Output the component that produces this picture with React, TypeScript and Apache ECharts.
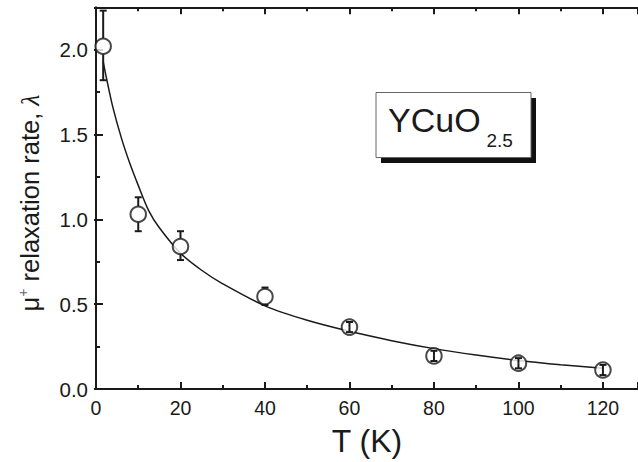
import React, { useEffect, useRef } from "react";
import * as echarts from "echarts";

// measured points
const T_PTS = [1.7, 10, 20, 40, 60, 80, 100, 120];
const LAMBDA = [2.02, 1.03, 0.84, 0.545, 0.365, 0.195, 0.152, 0.112];
const ERR_LOW = [1.82, 0.93, 0.76, 0.495, 0.335, 0.165, 0.122, 0.082];
const ERR_HIGH = [2.23, 1.13, 0.93, 0.598, 0.395, 0.225, 0.182, 0.142];

// fitted curve
const FIT_T = [1.7, 2.5, 4, 6, 8, 10, 12.5, 15, 20, 25, 30, 40, 50, 60, 70, 80, 90, 100, 110, 120];
const FIT_L = [1.93, 1.83, 1.66, 1.48, 1.33, 1.2, 1.05, 0.95, 0.8, 0.7, 0.62, 0.49, 0.405, 0.34, 0.285, 0.238, 0.2, 0.168, 0.143, 0.123];

const X_TICKS = [0, 20, 40, 60, 80, 100, 120];
const Y_TICKS = ["0.0", "0.5", "1.0", "1.5", "2.0"];

const FONT = "Liberation Sans, Arial, Helvetica, sans-serif";
const INK = "#1a1a1a";

export default function App() {
  const ref = useRef<HTMLDivElement>(null);
  useEffect(() => {
    if (!ref.current) return;
    const chart = echarts.init(ref.current, null, { renderer: "svg" });
    const R = 8;
    const axisCommon = {
      axisLine: { show: true, onZero: false, lineStyle: { color: INK, width: 2 } },
      splitLine: { show: false },
    };
    chart.setOption({
      animation: false,
      backgroundColor: "#fff",
      grid: { left: 96, top: 7.25, right: 0, bottom: 70, containLabel: false },
      xAxis: [
        {
          type: "value",
          min: 0,
          max: 128.3,
          interval: 20,
          ...axisCommon,
          axisTick: { show: true, inside: true, length: 7, lineStyle: { color: INK, width: 2 } },
          minorTick: { show: true, splitNumber: 2, length: 4, lineStyle: { color: INK, width: 2 } },
          axisLabel: {
            margin: 9,
            fontSize: 19.5,
            color: INK,
            fontFamily: FONT,
            showMaxLabel: false,
            formatter: (v: number) => (X_TICKS.includes(v) ? String(v) : ""),
          },
          name: "T (K)",
          nameLocation: "middle",
          nameGap: 36,
          nameTextStyle: { fontSize: 32, color: INK, fontFamily: FONT },
        },
        {
          type: "value",
          position: "top",
          min: 0,
          max: 128.3,
          interval: 20,
          ...axisCommon,
          axisTick: { show: true, inside: true, length: 7, lineStyle: { color: INK, width: 2 } },
          minorTick: { show: true, splitNumber: 2, length: 4, lineStyle: { color: INK, width: 2 } },
          axisLabel: { show: false },
        },
      ],
      yAxis: [
        {
          type: "value",
          min: 0,
          max: 2.25,
          interval: 0.5,
          ...axisCommon,
          axisTick: { show: true, inside: true, length: 7, lineStyle: { color: INK, width: 2 } },
          minorTick: { show: true, splitNumber: 2, length: 4, lineStyle: { color: INK, width: 2 } },
          axisLabel: {
            margin: 8,
            fontSize: 20.5,
            color: INK,
            fontFamily: FONT,
            formatter: (v: number) => Y_TICKS.find((t) => Math.abs(parseFloat(t) - v) < 1e-6) || "",
          },
        },
        {
          type: "value",
          position: "right",
          min: 0,
          max: 2.25,
          interval: 0.5,
          axisLine: { show: false },
          splitLine: { show: false },
          axisTick: { show: true, inside: true, length: 2, lineStyle: { color: INK, width: 2 } },
          axisLabel: { show: false },
        },
      ],
      series: [
        {
          type: "line",
          data: FIT_T.map((t, i) => [t, FIT_L[i]]),
          smooth: 0.3,
          showSymbol: false,
          symbol: "none",
          lineStyle: { color: INK, width: 1.5 },
          z: 2,
        },
        {
          type: "scatter",
          data: T_PTS.map((t, i) => [t, LAMBDA[i]]),
          symbol: "circle",
          symbolSize: 15.5,
          itemStyle: { color: "#fff", borderColor: INK, borderWidth: 2 },
          z: 3,
        },
        {
          type: "custom",
          data: T_PTS.map((t, i) => [t, ERR_LOW[i], ERR_HIGH[i], LAMBDA[i]]),
          encode: { x: 0, y: [1, 2, 3] },
          z: 4,
          renderItem: (params: any, api: any) => {
            const x = api.value(0);
            const pLo = api.coord([x, api.value(1)]);
            const pHi = api.coord([x, api.value(2)]);
            const pC = api.coord([x, api.value(3)]);
            const w = 3.5;
            const st = { stroke: INK, lineWidth: 2 };
            const children: any[] = [];
            const up = pC[1] - pHi[1];
            const dn = pLo[1] - pC[1];
            children.push({
              type: "line",
              shape: { x1: pC[0], y1: up > R ? pC[1] - R : pC[1], x2: pHi[0], y2: pHi[1] },
              style: st,
            });
            children.push({
              type: "line",
              shape: { x1: pC[0], y1: dn > R ? pC[1] + R : pC[1], x2: pLo[0], y2: pLo[1] },
              style: st,
            });
            children.push({ type: "line", shape: { x1: pHi[0] - w, y1: pHi[1], x2: pHi[0] + w, y2: pHi[1] }, style: st });
            children.push({ type: "line", shape: { x1: pLo[0] - w, y1: pLo[1], x2: pLo[0] + w, y2: pLo[1] }, style: st });
            return { type: "group", children };
          },
        },
      ],
      graphic: [
        {
          type: "text",
          x: 30,
          y: 203,
          rotation: Math.PI / 2,
          style: {
            text: "{a|\u03bc}{b|+}{a| relaxation rate, }{c|\u03bb}",
            textAlign: "center",
            textVerticalAlign: "middle",
            fill: INK,
            rich: {
              a: { fontSize: 25.5, fontFamily: FONT, fill: INK, lineHeight: 28 },
              b: { fontSize: 14, fontFamily: FONT, fill: "#666", verticalAlign: "top", lineHeight: 28 },
              c: { fontSize: 25.5, fontFamily: "Liberation Serif, serif", fontStyle: "italic", fill: INK, lineHeight: 28 },
            },
          },
          z: 12,
        },
        { type: "rect", shape: { x: 381, y: 98, width: 155, height: 65 }, style: { fill: "#111" }, z: 10 },
        {
          type: "rect",
          shape: { x: 376, y: 92.5, width: 155, height: 65 },
          style: { fill: "#fff", stroke: "#666", lineWidth: 1 },
          z: 11,
        },
        {
          type: "text",
          x: 388,
          y: 120,
          style: { text: "YCuO", font: `34px ${FONT}`, fill: INK, textAlign: "left", textVerticalAlign: "middle" },
          z: 12,
        },
        {
          type: "text",
          x: 486.5,
          y: 140.5,
          style: { text: "2.5", font: `19px ${FONT}`, fill: INK, textAlign: "left", textVerticalAlign: "middle" },
          z: 12,
        },
      ],
    });
    return () => chart.dispose();
  }, []);
  return (
    <div
      ref={ref}
      style={{ position: "fixed", left: 0, top: 0, width: 638, height: 462, background: "#fff" }}
    />
  );
}
